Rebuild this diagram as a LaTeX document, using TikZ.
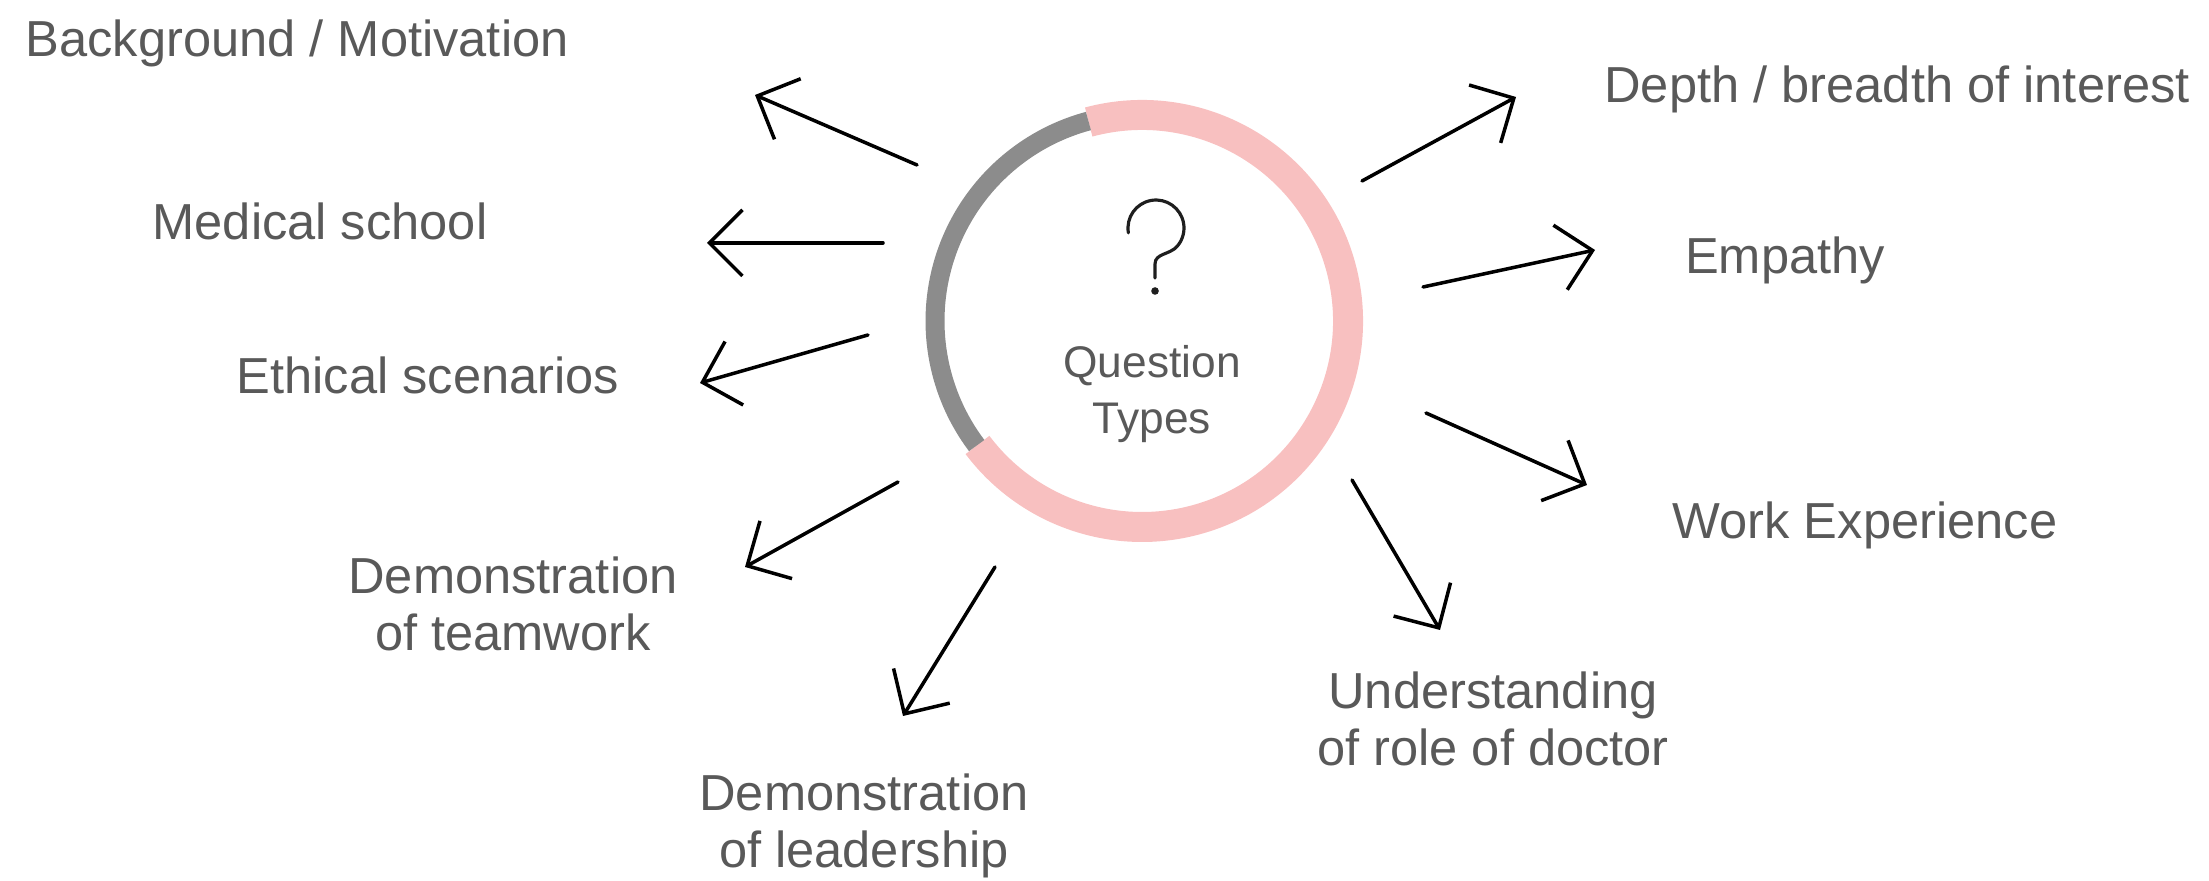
\documentclass[tikz,border=0pt]{standalone}
\usepackage{xcolor}
\usepackage{fontspec}
\setmainfont{Liberation Sans}
\usepackage{tikz}
\usetikzlibrary{positioning, arrows.meta}
\definecolor{ringpink}{RGB}{248,192,192}
\definecolor{ringgray}{RGB}{140,140,140}
\definecolor{textgray}{RGB}{89,89,89}
\definecolor{qmark}{RGB}{30,30,30}
\tikzset{
	spoke/.style={-{Straight Barb[length=3.3mm, width=6.6mm]}, line width=1pt, line cap=round, line join=round}, % open arrow heads
	topic/.style={text=textgray, inner sep=0pt, align=center, anchor=base, font=\fontsize{14.4}{16.5}\selectfont}, % the question types
	centretext/.style={text=textgray, inner sep=0pt, align=center, anchor=base, font=\fontsize{12.6}{16.2}\selectfont},
}

\begin{document}
\begin{tikzpicture}
	\useasboundingbox (0,0) rectangle (22.09,8.81);

	% Centre
	\node[circle, minimum size=4.4cm, inner sep=0pt] (qt) at (11.42,5.60) {};
	\draw[ringpink, line width=0.30cm] (qt.center) ++(105:2.06) arc[start angle=105, end angle=-143, radius=2.06];
	\draw[ringgray, line width=0.19cm] (qt.center) ++(105:2.07) arc[start angle=105, end angle=217, radius=2.07];
	\draw[qmark, line width=0.9pt, line cap=round] (11.284,6.481) arc[start angle=190, end angle=-40, radius=0.28]
		.. controls (11.70,6.26) and (11.55,6.28) .. (11.55,6.17) -- (11.55,6.03);
	\fill[qmark] (11.55,5.90) circle[radius=0.038];
	\node[centretext] (qtypes) at (11.52,4.47) {Question\\Types}; % base = last line

	% Question types
	\node[topic, anchor=base west] (bg) at (0.25,8.24) {Background / Motivation};
	\node[topic] (med) at (3.20,6.41) {Medical school};
	\node[topic] (eth) at (4.28,4.87) {Ethical scenarios};
	\node[topic] (team) at (5.13,2.30) {Demonstration\\of teamwork};
	\node[topic] (lead) at (8.64,0.13) {Demonstration\\of leadership};
	\node[topic] (und) at (14.93,1.15) {Understanding\\of role of doctor};
	\node[topic] (work) at (18.65,3.42) {Work Experience};
	\node[topic] (emp) at (17.85,6.07) {Empathy};
	\node[topic] (depth) at (18.97,7.78) {Depth / breadth of interest};

	% Spokes
	\coordinate (bgA) at (9.17,7.16);    \coordinate (bgB) at (7.55,7.86);
	\coordinate (medA) at (8.83,6.38);   \coordinate (medB) at (7.07,6.38);
	\coordinate (ethA) at (8.68,5.46);   \coordinate (ethB) at (7.00,4.98);
	\coordinate (teamA) at (8.98,3.99);  \coordinate (teamB) at (7.45,3.14);
	\coordinate (leadA) at (9.95,3.14);  \coordinate (leadB) at (9.03,1.65);
	\coordinate (undA) at (13.52,4.01);  \coordinate (undB) at (14.40,2.51);
	\coordinate (workA) at (14.26,4.68); \coordinate (workB) at (15.87,3.96);
	\coordinate (empA) at (14.23,5.94);  \coordinate (empB) at (15.95,6.31);
	\coordinate (depthA) at (13.62,7.00); \coordinate (depthB) at (15.16,7.84);

	\path[spoke]
		(bgA) edge (bgB)
		(medA) edge (medB)
		(ethA) edge (ethB)
		(teamA) edge (teamB)
		(leadA) edge (leadB)
		(undA) edge (undB)
		(workA) edge (workB)
		(empA) edge (empB)
		(depthA) edge (depthB);
\end{tikzpicture}
\end{document}
